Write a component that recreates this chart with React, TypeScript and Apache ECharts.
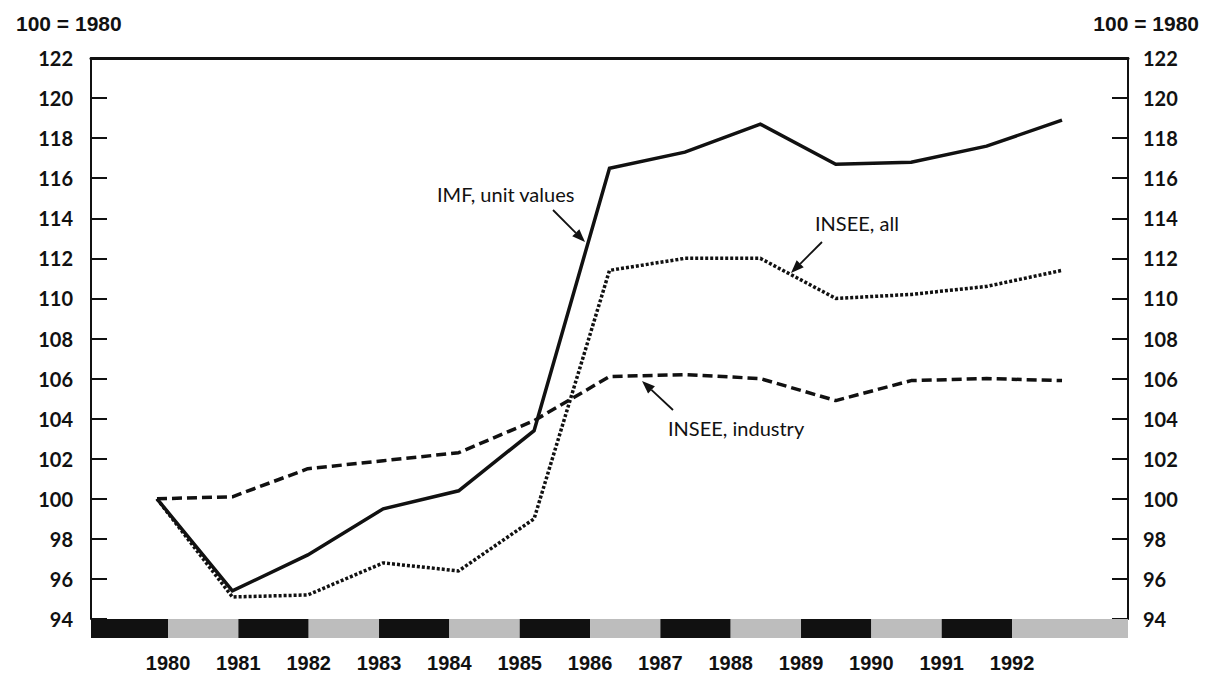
import React, { useEffect, useRef } from "react";
import * as echarts from "echarts";

const years = [1980, 1981, 1982, 1983, 1984, 1985, 1986, 1987, 1988, 1989, 1990, 1991, 1992];
const imfUnitValues = [100, 95.4, 97.2, 99.5, 100.4, 103.4, 116.5, 117.3, 118.7, 116.7, 116.8, 117.6, 118.9];
const inseeIndustry = [100, 100.1, 101.5, 101.9, 102.3, 103.9, 106.1, 106.2, 106.0, 104.9, 105.9, 106.0, 105.9];
const inseeAll = [100, 95.1, 95.2, 96.8, 96.4, 99.0, 111.4, 112.0, 112.0, 110.0, 110.2, 110.6, 111.4];
const yTicks = [94, 96, 98, 100, 102, 104, 106, 108, 110, 112, 114, 116, 118, 120, 122];
const baseLabel = "100 = 1980";

// axis extents (data axis & label band axis)
const dataMin = 1979.125;
const dataMax = 1992.875;
const bandMin = 1978.905;
const bandMax = 1993.649;

const FONT_NUM = "'Liberation Sans', Arial, sans-serif";
const FONT_GILL = "Lato, 'Open Sans', sans-serif";

function arrow(x1: number, y1: number, x2: number, y2: number) {
  const dx = x2 - x1;
  const dy = y2 - y1;
  const len = Math.sqrt(dx * dx + dy * dy);
  const ux = dx / len;
  const uy = dy / len;
  const hl = 13;
  const hw = 5;
  const bx = x2 - ux * hl;
  const by = y2 - uy * hl;
  return [
    {
      type: "line",
      shape: { x1, y1, x2: bx, y2: by },
      style: { stroke: "#111", lineWidth: 1.8 },
    },
    {
      type: "polygon",
      shape: {
        points: [
          [x2, y2],
          [bx - uy * hw, by + ux * hw],
          [bx + uy * hw, by - ux * hw],
        ],
      },
      style: { fill: "#111" },
    },
  ];
}

export default function App() {
  const ref = useRef<HTMLDivElement>(null);

  useEffect(() => {
    if (!ref.current) return;
    const chart = echarts.init(ref.current, undefined, { renderer: "svg" });

    const bounds = [bandMin, ...years, bandMax];
    const bandSegments = bounds.slice(0, -1).map((b, i) => [b, bounds[i + 1], i % 2]);

    const pair = (arr: number[]) => years.map((y, i) => [y, arr[i]]);

    const yAxisCommon = {
      type: "value",
      gridIndex: 0,
      min: yTicks[0],
      max: yTicks[yTicks.length - 1],
      interval: 2,
      splitLine: { show: false },
      axisLine: { show: true, lineStyle: { color: "#111", width: 2 } },
      axisTick: { show: true, inside: true, length: 16, lineStyle: { color: "#111", width: 2 } },
    };

    chart.setOption({
      animation: false,
      backgroundColor: "#fff",
      title: [
        {
          text: baseLabel,
          left: 11,
          top: 8,
          textStyle: { fontFamily: FONT_NUM, fontWeight: "bold", fontSize: 21, color: "#111" },
        },
        {
          text: baseLabel,
          right: 7,
          top: 8,
          textStyle: { fontFamily: FONT_NUM, fontWeight: "bold", fontSize: 21, color: "#111" },
        },
      ],
      grid: [
        { left: 91, right: 83, top: 58, bottom: 56, containLabel: false },
        { left: 91, right: 83, top: 619, height: 19, containLabel: false },
      ],
      xAxis: [
        {
          type: "value",
          gridIndex: 0,
          position: "top",
          min: dataMin,
          max: dataMax,
          axisLine: { show: true, lineStyle: { color: "#111", width: 3 } },
          axisTick: { show: false },
          axisLabel: { show: false },
          splitLine: { show: false },
        },
        {
          type: "value",
          gridIndex: 1,
          position: "bottom",
          min: bandMin,
          max: bandMax,
          axisLine: { show: false },
          axisTick: { show: false },
          splitLine: { show: false },
          axisLabel: {
            show: true,
            customValues: years,
            formatter: (v: number) => String(Math.round(v)),
            margin: 15,
            fontFamily: FONT_NUM,
            fontWeight: "bold",
            fontSize: 20,
            color: "#111",
          },
        },
      ],
      yAxis: [
        {
          ...yAxisCommon,
          position: "left",
          axisLabel: {
            margin: 18,
            fontFamily: FONT_GILL,
            fontWeight: "bold",
            fontSize: 20,
            color: "#111",
          },
        },
        {
          ...yAxisCommon,
          position: "right",
          axisLabel: {
            margin: 15,
            fontFamily: FONT_GILL,
            fontWeight: "bold",
            fontSize: 20,
            color: "#111",
          },
        },
        {
          type: "value",
          gridIndex: 1,
          min: 0,
          max: 1,
          show: false,
        },
      ],
      series: [
        {
          name: "IMF, unit values",
          type: "line",
          xAxisIndex: 0,
          yAxisIndex: 0,
          data: pair(imfUnitValues),
          symbol: "none",
          lineStyle: { color: "#111", width: 3.5, type: "solid", join: "miter" },
          z: 3,
        },
        {
          name: "INSEE, industry",
          type: "line",
          xAxisIndex: 0,
          yAxisIndex: 0,
          data: pair(inseeIndustry),
          symbol: "none",
          lineStyle: { color: "#111", width: 3.5, type: [10, 5] },
          z: 2,
        },
        {
          name: "INSEE, all",
          type: "line",
          xAxisIndex: 0,
          yAxisIndex: 0,
          data: pair(inseeAll),
          symbol: "none",
          lineStyle: { color: "#111", width: 3.5, type: [3, 2] },
          z: 2,
        },
        {
          name: "band",
          type: "custom",
          xAxisIndex: 1,
          yAxisIndex: 2,
          data: bandSegments,
          encode: { x: [0, 1] },
          silent: true,
          renderItem: (params: any, api: any) => {
            const s = api.coord([api.value(0), 1]);
            const e = api.coord([api.value(1), 0]);
            return {
              type: "rect",
              shape: { x: s[0], y: s[1], width: e[0] - s[0], height: e[1] - s[1] },
              style: { fill: api.value(2) ? "#bdbdbd" : "#111" },
            };
          },
        },
      ],
      graphic: [
        {
          type: "text",
          left: 437,
          top: 184,
          style: { text: "IMF, unit values", font: `20px ${FONT_GILL}`, fill: "#111" },
        },
        {
          type: "text",
          left: 815,
          top: 213,
          style: { text: "INSEE, all", font: `20px ${FONT_GILL}`, fill: "#111" },
        },
        {
          type: "text",
          left: 668,
          top: 418,
          style: { text: "INSEE, industry", font: `20px ${FONT_GILL}`, fill: "#111" },
        },
        ...arrow(553, 210, 585, 242),
        ...arrow(822, 242, 791, 273),
        ...arrow(673, 410, 642, 381),
      ],
    });

    return () => chart.dispose();
  }, []);

  return (
    <div
      ref={ref}
      style={{ position: "absolute", left: 0, top: 0, width: 1211, height: 675 }}
    />
  );
}
